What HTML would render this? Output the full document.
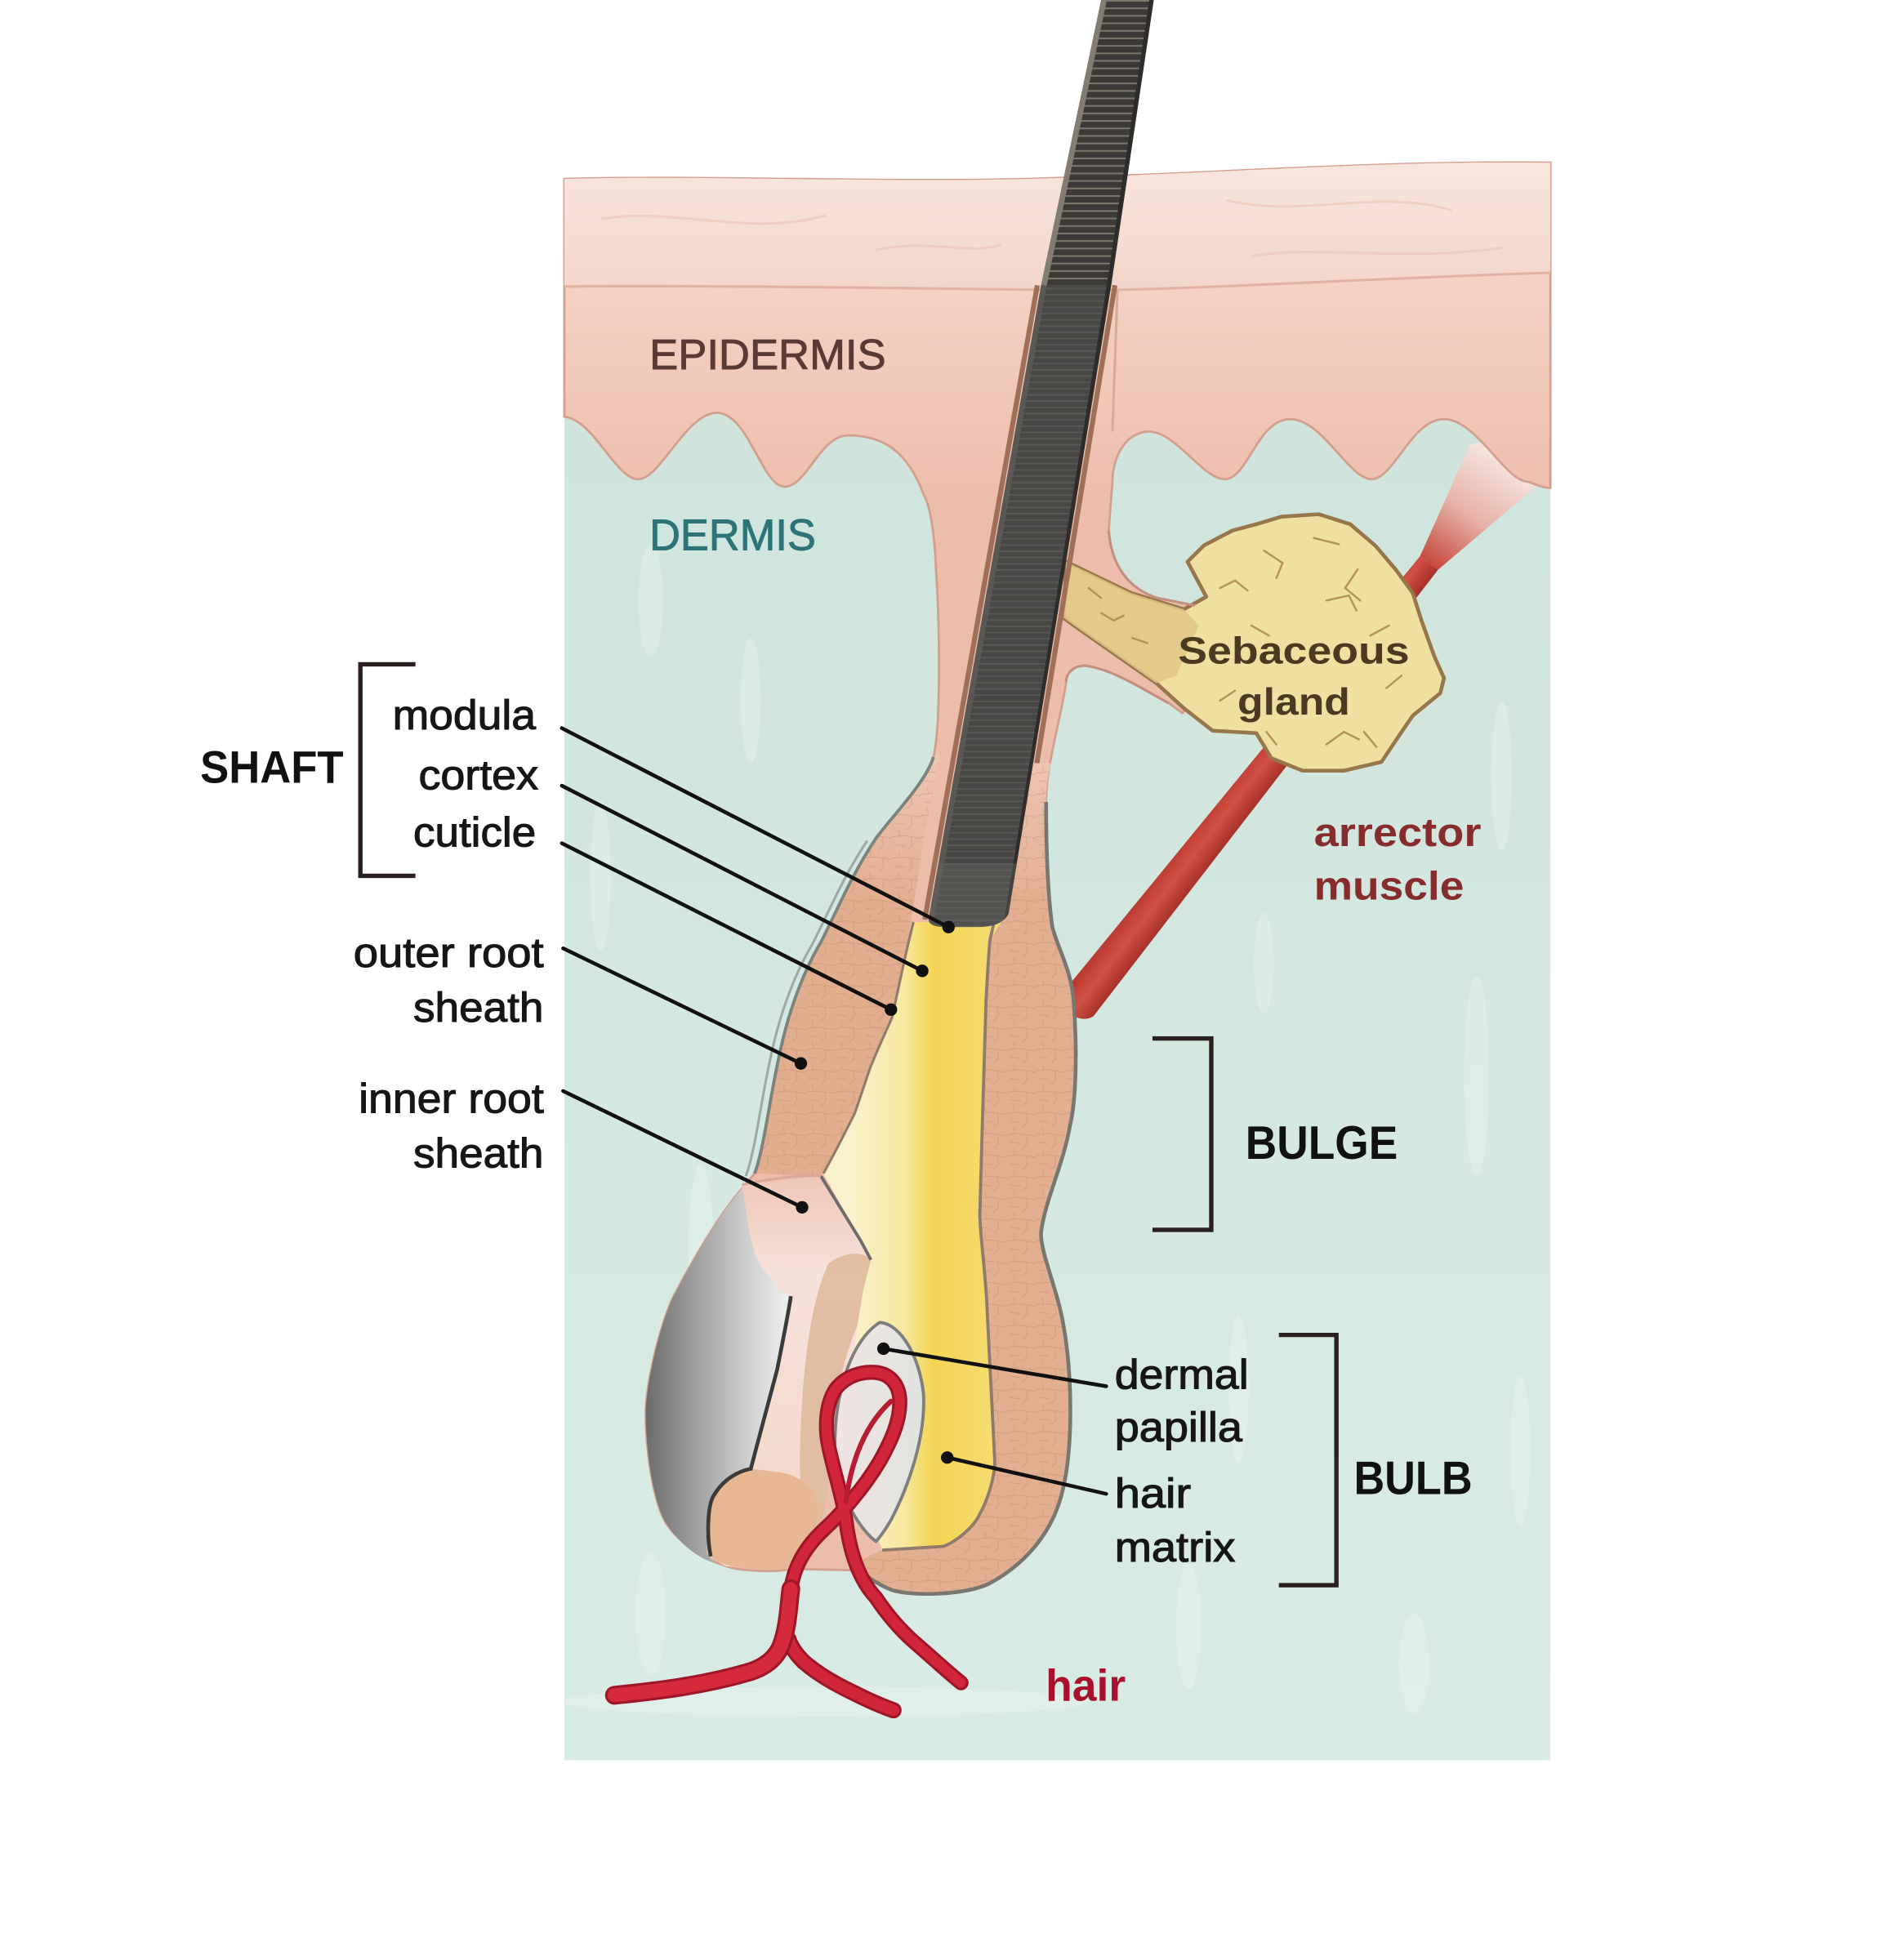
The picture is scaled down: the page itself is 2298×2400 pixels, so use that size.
<!DOCTYPE html>
<html><head><meta charset="utf-8">
<style>html,body{margin:0;padding:0;background:#fff;width:2298px;height:2400px;overflow:hidden}svg{display:block}</style>
</head><body>
<svg xmlns="http://www.w3.org/2000/svg" width="2298" height="2400" viewBox="0 0 1500 1566.6" preserveAspectRatio="none">
<defs>
  <linearGradient id="dermG" x1="0" y1="0" x2="0" y2="1">
    <stop offset="0" stop-color="#cfe4dc"/><stop offset="1" stop-color="#d9ebe5"/>
  </linearGradient>
  <linearGradient id="epiG" gradientUnits="userSpaceOnUse" x1="0" y1="228" x2="0" y2="400">
    <stop offset="0" stop-color="#f3d2c4"/><stop offset="1" stop-color="#edbdab"/>
  </linearGradient>
  <linearGradient id="scG" gradientUnits="userSpaceOnUse" x1="0" y1="130" x2="0" y2="232">
    <stop offset="0" stop-color="#f8e6de"/><stop offset="1" stop-color="#f3d6ca"/>
  </linearGradient>
  <linearGradient id="tanL" gradientUnits="userSpaceOnUse" x1="0" y1="610" x2="0" y2="720">
    <stop offset="0" stop-color="#eec3b1"/><stop offset="1" stop-color="#e1ae8f"/>
  </linearGradient>
  <linearGradient id="tanR" gradientUnits="userSpaceOnUse" x1="0" y1="610" x2="0" y2="720">
    <stop offset="0" stop-color="#eec3b1"/><stop offset="1" stop-color="#e2b090"/>
  </linearGradient>
  <linearGradient id="yelG" gradientUnits="userSpaceOnUse" x1="680" y1="0" x2="800" y2="0">
    <stop offset="0" stop-color="#f9f1cc"/><stop offset="0.35" stop-color="#f8e8a0"/>
    <stop offset="0.55" stop-color="#f3d452"/><stop offset="1" stop-color="#f6dc74"/>
  </linearGradient>
  <linearGradient id="grayG" gradientUnits="userSpaceOnUse" x1="516" y1="0" x2="636" y2="0">
    <stop offset="0" stop-color="#6c6c6c"/><stop offset="0.3" stop-color="#9a9a9a"/>
    <stop offset="0.72" stop-color="#d4d4d4"/><stop offset="1" stop-color="#f3f3f3"/>
  </linearGradient>
  <linearGradient id="paleG" gradientUnits="userSpaceOnUse" x1="0" y1="940" x2="0" y2="1250">
    <stop offset="0" stop-color="#efc6b6"/><stop offset="0.25" stop-color="#f6e2da"/><stop offset="1" stop-color="#f2d6c9"/>
  </linearGradient>
  <linearGradient id="musG" gradientUnits="userSpaceOnUse" x1="985" y1="600" x2="1020" y2="627">
    <stop offset="0" stop-color="#9c2a22"/><stop offset="0.45" stop-color="#c9453a"/>
    <stop offset="0.6" stop-color="#d05044"/><stop offset="1" stop-color="#a02c24"/>
  </linearGradient>
  <linearGradient id="tendG" gradientUnits="userSpaceOnUse" x1="1142" y1="452" x2="1205" y2="360">
    <stop offset="0" stop-color="#c6463a"/><stop offset="0.45" stop-color="#e6b0a5"/><stop offset="1" stop-color="#f7ede8"/>
  </linearGradient>
  <linearGradient id="papG" gradientUnits="userSpaceOnUse" x1="668" y1="0" x2="740" y2="0">
    <stop offset="0" stop-color="#f1e4e2"/><stop offset="1" stop-color="#dfe3df"/>
  </linearGradient>
  <pattern id="rungs" patternUnits="userSpaceOnUse" width="60" height="6">
    <rect width="60" height="6" fill="#3c3a37"/><rect y="0" width="60" height="1.3" fill="#7d776c"/>
  </pattern>
  <pattern id="rungs2" patternUnits="userSpaceOnUse" width="60" height="5">
    <rect width="60" height="5" fill="#484745"/><rect y="0" width="60" height="1.2" fill="#595754"/>
  </pattern>
  <pattern id="crk" patternUnits="userSpaceOnUse" width="23" height="17">
    <path d="M0 6 L9 5 L23 7 M6 5 L5 0 M15 6 L16 13 L12 17 M2 12 L10 13" stroke="#b07a5c" stroke-width="0.7" fill="none" opacity=".3"/>
  </pattern>
  <clipPath id="shaftClip">
    <path d="M880 0 L922 0 L888 228 L806 730 C803 737 795 741 780 741 L755 741 C746 741 742 738 742 735 L832 228 Z"/>
  </clipPath>
  <clipPath id="panelClip">
    <rect x="451" y="120" width="788" height="1290"/>
  </clipPath>
</defs>

<rect x="0" y="0" width="1500" height="1566.6" fill="#ffffff"/>

<!-- dermis panel -->
<rect x="451" y="280" width="788" height="1127" fill="url(#dermG)"/>
<g fill="#ffffff" opacity=".22">
  <ellipse cx="480" cy="700" rx="8" ry="60"/><ellipse cx="560" cy="1000" rx="10" ry="70"/>
  <ellipse cx="520" cy="1290" rx="12" ry="50"/><ellipse cx="990" cy="1110" rx="8" ry="60"/>
  <ellipse cx="1180" cy="860" rx="10" ry="80"/><ellipse cx="1215" cy="1160" rx="8" ry="60"/>
  <ellipse cx="1130" cy="1330" rx="12" ry="40"/><ellipse cx="950" cy="1300" rx="10" ry="50"/>
  <ellipse cx="600" cy="560" rx="8" ry="50"/><ellipse cx="1200" cy="620" rx="8" ry="60"/>
  <ellipse cx="1010" cy="770" rx="8" ry="40"/><ellipse cx="520" cy="480" rx="10" ry="45"/>
  <ellipse cx="660" cy="1360" rx="210" ry="12"/>
</g>

<!-- arrector muscle -->
<g clip-path="url(#panelClip)">
<path d="M1134.8 444.6 L1175 355 L1215 350 L1238 380 L1149.2 455.4 Z" fill="url(#tendG)"/>
</g>
<path d="M1134.8 444.6 L1149.2 455.4 L874 812 C866 818 852 812 848 800 L848 795 Z" fill="url(#musG)"/>

<!-- epidermis + follicle silhouette -->
<path d="M451 143 C560 140 700 146 820 143 C950 140 1100 128 1239 130 L1239 390
C1233 390 1227 387 1221 385 C1203 385 1180 335 1154 335 C1128 335 1114 383 1096 383
C1078 383 1057 335 1031 335 C1005 335 997 383 979 383 C961 383 940 345 918 345
C900 345 889 365 889 385 L886 424 C888 450 900 470 925 478 L955 484 L975 530 L945 570 L934 562
C915 552 890 535 867 532 C858 532 852 538 852 545 C848 575 836 610 836 641
C836 690 838 720 841 741 C846 760 856 775 858 800 C861 840 860 880 855 900
C850 930 835 960 832 985 C831 1000 845 1030 850 1060 C857 1100 858 1160 848 1196
C840 1225 820 1250 790 1266 C770 1275 730 1276 713 1271 C700 1266 690 1258 680 1255 L632 1254
C620 1257 590 1256 578 1251 C560 1245 540 1230 532 1217 C522 1200 516 1160 516 1128
C517 1100 530 1050 540 1033 C552 1010 575 970 593 950 L603 938
C610 920 615 880 621 852 C628 815 640 780 656 753 C668 730 680 700 700 670
C715 650 740 625 746 605 C752 580 751 500 748 455 C747 430 744 405 738 395
C725 360 705 348 678 348 C655 348 645 389 627 389 C609 389 598 330 573 330
C548 330 528 383 510 383 C492 383 475 336 451 333 Z" fill="url(#epiG)" stroke="#d29e8d" stroke-width="1.8"/>
<!-- stratum corneum -->
<path d="M451 143 C560 140 700 146 820 143 C950 140 1100 128 1239 130 L1239 218 C1100 222 950 232 860 232 C700 230 560 228 451 229 Z" fill="url(#scG)"/>
<path d="M451 229 C560 228 700 230 860 232 C950 232 1100 222 1239 218" fill="none" stroke="#e0b2a2" stroke-width="2"/>
<path d="M480 175 C540 165 600 190 660 172 M980 160 C1040 175 1100 150 1160 168 M700 200 C740 190 780 205 800 195 M1000 205 C1050 195 1120 210 1200 198" fill="none" stroke="#ecc9bb" stroke-width="2" opacity=".7"/>
<path d="M893 232 L889 345" stroke="#d9a898" stroke-width="2" fill="none"/>

<!-- sebaceous gland & duct -->
<path d="M949 449 L962 436 L985 424 L1004 419 L1024 413 L1054 411 L1079 419 L1099 436 L1116 456 L1129 474 L1136 496 L1146 524 L1154 542 L1151 554 L1129 572 L1116 591 L1104 609 L1074 616 L1041 616 L1016 606 L1004 586 L969 584 L946 566 L924 546 L864 504 L850 494 L852 449 L904 474 L946 487 L964 477 Z" fill="#efe0a2" stroke="#96764a" stroke-width="3" stroke-linejoin="round"/>
<path d="M850 494 L852 449 L904 474 L946 487 L958 500 L940 540 L924 546 L864 504 Z" fill="#e0c587" opacity=".85"/>
<path d="M934 562 C915 552 890 535 867 532 C858 532 852 538 852 545" fill="none" stroke="#c48f7e" stroke-width="2"/>
<path d="M886 424 C888 450 900 470 925 478 L955 484" fill="none" stroke="#c48f7e" stroke-width="2"/>
<g fill="none" stroke="#b3935a" stroke-width="1.6" stroke-linecap="round">
  <path d="M975 470 l12 -6 l10 8"/><path d="M1010 440 l15 10 l-5 12"/><path d="M1050 430 l20 5"/>
  <path d="M1085 455 l-10 15 l12 10"/><path d="M1110 500 l-15 8"/><path d="M1060 480 l18 -4 l6 12"/>
  <path d="M1000 500 l14 8"/><path d="M1120 540 l-12 10"/><path d="M1060 595 l14 -10 l12 6"/>
  <path d="M1090 585 l10 12"/><path d="M1020 595 l-8 -10"/><path d="M975 560 l12 -8"/>
  <path d="M880 490 l10 6 l8 -4"/><path d="M905 510 l12 4"/><path d="M870 470 l10 8"/>
</g>

<!-- follicle lining along shaft -->
<path d="M829 228 L739 735" stroke="#a06f58" stroke-width="4" fill="none"/>
<path d="M891 228 L809 730" stroke="#a06f58" stroke-width="4" fill="none"/>

<!-- outer root sheath left (tan) -->
<path d="M746 605 C740 625 715 650 700 670 C680 700 668 730 656 753 C640 780 628 815 621 852 C615 880 610 920 603 938 L656 940 C665 925 678 900 683 890 C695 865 705 835 713 813 C720 785 725 755 728 737 L740 660 L752 600 Z" fill="url(#tanL)"/>
<path d="M746 605 C740 625 715 650 700 670 C680 700 668 730 656 753 C640 780 628 815 621 852 C615 880 610 920 603 938 L656 940 C665 925 678 900 683 890 C695 865 705 835 713 813 C720 785 725 755 728 737 L740 660 L752 600 Z" fill="url(#crk)"/>

<!-- right wall (tan) -->
<path d="M840 610 C836 625 836 635 836 641 C836 690 838 720 841 741 C846 760 856 775 858 800 C861 840 860 880 855 900 C850 930 835 960 832 985 C831 1000 845 1030 850 1060 C857 1100 858 1160 848 1196 C840 1225 820 1250 790 1266 C770 1275 730 1276 713 1271 C700 1266 690 1258 680 1250 L705 1239 L754 1236 C765 1232 778 1220 782 1212 C790 1198 795 1180 795 1168 L789 1050 C788 1020 784 995 783 972 L785 900 L788 800 C789 780 790 765 791 752 L808 678 L822 610 Z" fill="url(#tanR)"/>
<path d="M840 610 C836 625 836 635 836 641 C836 690 838 720 841 741 C846 760 856 775 858 800 C861 840 860 880 855 900 C850 930 835 960 832 985 C831 1000 845 1030 850 1060 C857 1100 858 1160 848 1196 C840 1225 820 1250 790 1266 C770 1275 730 1276 713 1271 C700 1266 690 1258 680 1250 L705 1239 L754 1236 C765 1232 778 1220 782 1212 C790 1198 795 1180 795 1168 L789 1050 C788 1020 784 995 783 972 L785 900 L788 800 C789 780 790 765 791 752 L808 678 L822 610 Z" fill="url(#crk)"/>

<!-- yellow inner region -->
<path d="M730 737 L800 737 L791 752 C789 770 788 790 788 800 L785 900 L783 972 C785 1000 788 1030 789 1050 L795 1168 C792 1190 788 1205 782 1212 C770 1226 760 1234 754 1236 L705 1239 L690 1200 L680 1100 L685 1060 L690 1030 L696 1007 L688 992 L658 938 C668 920 678 900 683 890 C690 870 693 860 696 852 C703 835 710 820 713 813 C718 790 724 760 730 737 Z" fill="url(#yelG)"/>

<!-- bulb pale cut face -->
<path d="M593 947 L656 940 L688 992 L696 1007 L690 1030 L685 1060 L680 1100 L668 1140 L662 1190 L650 1235 L632 1254 L580 1252 L560 1240 L540 1200 L560 1100 L590 1000 Z" fill="url(#paleG)"/>
<!-- tan strip in bulb -->
<path d="M662 1010 C675 1000 690 1000 696 1007 L690 1030 L685 1060 C672 1090 665 1130 664 1170 C662 1200 656 1220 648 1232 C640 1215 638 1180 640 1140 C642 1090 648 1040 662 1010 Z" fill="#dcb596" opacity=".8"/>
<!-- gray shell -->
<path d="M593 950 C575 970 552 1010 540 1033 C530 1050 517 1100 516 1128 C516 1160 522 1200 532 1217 C540 1230 555 1245 573 1250 C566 1245 565 1242 565 1239 L565 1215 C566 1205 568 1200 570 1196 C575 1188 580 1182 586 1179 L600 1174 L605 1155 L621 1095 C625 1075 630 1050 632 1036 C625 1032 622 1030 621 1027 C612 1018 606 1010 603 1002 C600 990 597 975 596 965 Z" fill="url(#grayG)"/>
<!-- peach bottom -->
<path d="M600 1174 C590 1176 578 1182 570 1196 C565 1205 565 1230 568 1244 C575 1252 600 1256 632 1254 C645 1245 652 1225 654 1205 C652 1190 640 1180 625 1177 Z" fill="#e7b692"/>
<path d="M632 1036 C630 1050 625 1075 621 1095 L605 1155 L600 1174 C590 1176 578 1182 570 1196 C565 1205 565 1230 568 1244" fill="none" stroke="#3a3a3a" stroke-width="3"/>
<path d="M656 940 L688 992 L696 1007" fill="none" stroke="#6c6c6c" stroke-width="2.5"/>
<path d="M593 947 C615 942 640 939 656 940" fill="none" stroke="#d8a996" stroke-width="2"/>

<!-- papilla -->
<path d="M703 1057 C720 1058 735 1085 738 1114 C740 1150 725 1190 712 1215 C706 1225 702 1230 700 1232 C690 1225 672 1200 668 1170 C664 1130 675 1075 703 1057 Z" fill="url(#papG)" stroke="#7e7e7e" stroke-width="2.5"/>

<!-- outlines on follicle -->
<path d="M746 605 C740 625 715 650 700 670 C680 700 668 730 656 753 C640 780 628 815 621 852 C615 880 610 920 603 938" fill="none" stroke="#7b837f" stroke-width="2.5"/>
<path d="M693 672 C673 702 661 732 649 755 C633 782 621 817 614 854 C608 882 603 922 596 940" fill="none" stroke="#9fa8a4" stroke-width="2"/>
<path d="M658 938 C668 920 678 900 683 890 C690 870 693 860 696 852 C703 835 710 820 713 813 C718 790 724 760 730 737" fill="none" stroke="#8f7b6c" stroke-width="2"/>
<path d="M836 641 C836 690 838 720 841 741 C846 760 856 775 858 800 C861 840 860 880 855 900 C850 930 835 960 832 985 C831 1000 845 1030 850 1060 C857 1100 858 1160 848 1196 C840 1225 820 1250 790 1266 C770 1275 730 1276 713 1271 C700 1266 690 1258 680 1250" fill="none" stroke="#77766f" stroke-width="3"/>
<path d="M808 678 L791 752 C790 765 789 780 788 800 L785 900 L783 972 C784 995 788 1020 789 1050 L795 1168 C795 1180 790 1198 782 1212 C778 1220 765 1232 754 1236 L705 1239" fill="none" stroke="#8e7b6d" stroke-width="2.5"/>

<!-- hair shaft -->
<g clip-path="url(#shaftClip)">
  <rect x="700" y="-5" width="300" height="235" fill="url(#rungs)"/>
  <rect x="700" y="228" width="300" height="520" fill="url(#rungs2)"/>
  <path d="M882 0 L834 228" stroke="#827c72" stroke-width="5" fill="none"/>
  <path d="M921 0 L887 228 L805 735" stroke="#2f2d2b" stroke-width="5" fill="none"/>
  <path d="M834 228 L744 735" stroke="#5a5855" stroke-width="5" fill="none"/>
  <rect x="700" y="690" width="150" height="55" fill="#6a6a68" opacity=".35"/>
</g>

<!-- blood vessel -->
<g fill="none" stroke-linecap="round">
  <path d="M714 1367 C700 1362 688 1356 676 1350 C662 1343 650 1335 642 1328 C636 1322 632 1316 630 1310" stroke="#9e1628" stroke-width="13"/>
  <path d="M714 1367 C700 1362 688 1356 676 1350 C662 1343 650 1335 642 1328 C636 1322 632 1316 630 1310" stroke="#d12639" stroke-width="9"/>
  <path d="M632 1270 C635 1250 645 1235 659 1222 C672 1210 690 1190 703 1168 C712 1152 720 1135 719 1118 C718 1105 710 1098 700 1097 C688 1096 676 1100 668 1110 C660 1122 659 1140 662 1155 C666 1175 673 1195 676 1215 C679 1240 686 1262 700 1277 C710 1292 720 1303 730 1312 C745 1325 758 1337 768 1345" stroke="#9e1628" stroke-width="12"/>
  <path d="M632 1270 C635 1250 645 1235 659 1222 C672 1210 690 1190 703 1168 C712 1152 720 1135 719 1118 C718 1105 710 1098 700 1097 C688 1096 676 1100 668 1110 C660 1122 659 1140 662 1155 C666 1175 673 1195 676 1215 C679 1240 686 1262 700 1277 C710 1292 720 1303 730 1312 C745 1325 758 1337 768 1345" stroke="#d12639" stroke-width="8"/>
  <path d="M676 1200 C680 1170 690 1140 712 1120" stroke="#b81c30" stroke-width="4"/>
  <path d="M491 1355 C520 1352 560 1348 600 1336 C612 1332 620 1325 624 1316 C630 1300 630 1285 632 1270" stroke="#9e1628" stroke-width="15"/>
  <path d="M491 1355 C520 1352 560 1348 600 1336 C612 1332 620 1325 624 1316 C630 1300 630 1285 632 1270" stroke="#d42a3c" stroke-width="11"/>
</g>

<!-- brackets -->
<g fill="none" stroke="#2a2020" stroke-width="3.5">
  <path d="M332 531 L288 531 L288 700 L332 700"/>
  <path d="M921 830 L968 830 L968 983 L921 983"/>
  <path d="M1022 1067 L1068 1067 L1068 1267 L1022 1267"/>
</g>

<!-- leader lines -->
<g stroke="#111" stroke-width="3" stroke-linecap="round">
  <line x1="449" y1="582" x2="758" y2="741"/>
  <line x1="449" y1="628" x2="737" y2="776"/>
  <line x1="449" y1="674" x2="712" y2="807"/>
  <line x1="450" y1="758" x2="640" y2="850"/>
  <line x1="450" y1="872" x2="641" y2="965"/>
  <line x1="706" y1="1078" x2="884" y2="1108"/>
  <line x1="757" y1="1165" x2="884" y2="1194"/>
</g>
<g fill="#111">
  <circle cx="758" cy="741" r="5"/><circle cx="737" cy="776" r="5"/><circle cx="712" cy="807" r="5"/>
  <circle cx="640" cy="850" r="5"/><circle cx="641" cy="965" r="5"/><circle cx="706" cy="1078" r="5"/>
  <circle cx="757" cy="1165" r="5"/>
</g>

<!-- text -->
<g font-family="'Liberation Sans', Arial, Helvetica, sans-serif">
  <text x="519" y="295" font-size="34" fill="#5a3a34" stroke="#5a3a34" stroke-width="0.6" textLength="189" lengthAdjust="spacingAndGlyphs">EPIDERMIS</text>
  <text x="519" y="439.5" font-size="35" fill="#2d7478" stroke="#2d7478" stroke-width="0.6" textLength="133" lengthAdjust="spacingAndGlyphs">DERMIS</text>
  <text x="160" y="625.7" font-size="36.5" font-weight="bold" fill="#111" textLength="114.5" lengthAdjust="spacingAndGlyphs">SHAFT</text>
  <g font-size="33" fill="#161616" stroke="#161616" stroke-width="0.7">
    <text x="313.7" y="583" textLength="114.5" lengthAdjust="spacingAndGlyphs">modula</text>
    <text x="334.5" y="631" textLength="95.7" lengthAdjust="spacingAndGlyphs">cortex</text>
    <text x="330.3" y="676.5" textLength="98" lengthAdjust="spacingAndGlyphs">cuticle</text>
    <text x="282.5" y="772.8" textLength="152" lengthAdjust="spacingAndGlyphs">outer root</text>
    <text x="330.3" y="816.5" textLength="104" lengthAdjust="spacingAndGlyphs">sheath</text>
    <text x="286.6" y="889.4" textLength="148" lengthAdjust="spacingAndGlyphs">inner root</text>
    <text x="330.3" y="933" textLength="104" lengthAdjust="spacingAndGlyphs">sheath</text>
    <text x="890.8" y="1110" textLength="107" lengthAdjust="spacingAndGlyphs">dermal</text>
    <text x="890.8" y="1152" textLength="102" lengthAdjust="spacingAndGlyphs">papilla</text>
    <text x="890.8" y="1205" textLength="61" lengthAdjust="spacingAndGlyphs">hair</text>
    <text x="890.8" y="1248" textLength="96.4" lengthAdjust="spacingAndGlyphs">matrix</text>
  </g>
  <text x="995.3" y="926.4" font-size="37.5" font-weight="bold" fill="#111" textLength="121.7" lengthAdjust="spacingAndGlyphs">BULGE</text>
  <text x="1081.9" y="1194.3" font-size="37.5" font-weight="bold" fill="#111" textLength="94.7" lengthAdjust="spacingAndGlyphs">BULB</text>
  <text x="941.4" y="530.5" font-size="30" font-weight="bold" fill="#4a3a22" textLength="185" lengthAdjust="spacingAndGlyphs">Sebaceous</text>
  <text x="988.9" y="571" font-size="30" font-weight="bold" fill="#4a3a22" textLength="90" lengthAdjust="spacingAndGlyphs">gland</text>
  <text x="1050" y="676.4" font-size="32" font-weight="bold" fill="#862c2c" textLength="133.7" lengthAdjust="spacingAndGlyphs">arrector</text>
  <text x="1050" y="719" font-size="32" font-weight="bold" fill="#862c2c" textLength="120" lengthAdjust="spacingAndGlyphs">muscle</text>
  <text x="835.6" y="1359.3" font-size="36" font-weight="bold" fill="#a8102c" textLength="64" lengthAdjust="spacingAndGlyphs">hair</text>
</g>
</svg>
</body></html>
